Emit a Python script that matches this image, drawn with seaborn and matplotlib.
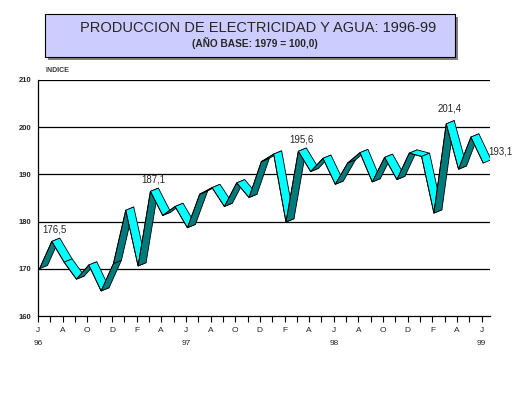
import matplotlib
matplotlib.use("Agg")
import matplotlib.pyplot as plt
from matplotlib.patches import Rectangle
import numpy as np
import seaborn as sns

# monthly index, June 1996 .. June 1999
values = [170.7, 176.5, 172.1, 168.5, 171.5, 166.0, 171.8, 183.1, 171.3, 187.1,
          182.0, 183.9, 179.4, 186.5, 187.9, 183.9, 188.9, 185.8, 193.4, 195.0,
          180.6, 195.6, 191.3, 194.1, 188.6, 193.1, 195.3, 189.1, 194.3, 189.6,
          195.2, 194.5, 182.5, 201.4, 191.8, 198.6, 193.1]
month_letters = ['J', 'A', 'O', 'D', 'F', 'A', 'J', 'A', 'O', 'D', 'F', 'A',
                 'J', 'A', 'O', 'D', 'F', 'A', 'J']
years = {0: '96', 12: '97', 24: '98', 36: '99'}
labelled = {1: '176,5', 9: '187,1', 21: '195,6', 33: '201,4', 36: '193,1'}

sns.set_style("white")
plt.rcParams['font.family'] = ['Liberation Sans', 'DejaVu Sans']

fig = plt.figure(figsize=(5.32, 3.99), dpi=100)
ax = fig.add_axes([0.0714, 0.208, 0.8496, 0.5915])

x = np.arange(len(values)) + 0.12
y = np.array(values)
dx, dy = 0.65, 0.7  # ribbon depth

dark = '#007B7B'
light = '#00FFFF'
for i in range(len(values) - 1):
    x0, x1, y0, y1 = x[i], x[i + 1], y[i], y[i + 1]
    col = dark if y1 > y0 else light
    ax.fill([x0, x1, x1 + dx, x0 + dx], [y0 - dy, y1 - dy, y1, y0],
            facecolor=col, edgecolor='black', lw=0.6, zorder=3 + i * 0.01)

sns.lineplot(x=x, y=y - dy, color='black', lw=0.6, ax=ax, zorder=4)

for i, txt in labelled.items():
    if i == 36:
        ax.text(x[i] + 0.45, y[i] + 0.6, txt, fontsize=7, ha='left', va='bottom',
                clip_on=False)
    else:
        up = 1.4 if i == 33 else 0.7
        ax.text(x[i] + 0.25, y[i] + up, txt, fontsize=7, ha='center', va='bottom')

ax.set_xlim(0, 36.67)
ax.set_ylim(160, 210)
ax.set_yticks(range(160, 211, 10))
ax.set_yticklabels([str(v) for v in range(160, 211, 10)], fontsize=5.5,
                   fontweight='bold')
ax.tick_params(axis='y', length=0, pad=5)

ticks = list(range(37))
tlabels = []
for t in ticks:
    if t % 2 == 0:
        lab = month_letters[t // 2]
        if t in years:
            lab += '\n' + years[t]
        tlabels.append(lab)
    else:
        tlabels.append('')
ax.set_xticks(ticks)
ax.set_xticklabels(tlabels, fontsize=6, linespacing=2.1)
ax.tick_params(axis='x', length=4, width=0.8, color='black', direction='out',
               bottom=True, pad=4)

for v in range(170, 211, 10):
    ax.axhline(v, color='black', lw=0.9, zorder=1)
for side in ['top', 'right']:
    ax.spines[side].set_visible(False)
for side in ['left', 'bottom']:
    ax.spines[side].set_color('black')
    ax.spines[side].set_linewidth(0.9)
ax.grid(False)

# title box with shadow
fig.patches.append(Rectangle((0.0846 + 0.006, 0.857 - 0.008), 0.771, 0.108,
                             transform=fig.transFigure, facecolor='#808080',
                             edgecolor='none', zorder=0))
fig.patches.append(Rectangle((0.0846, 0.857), 0.771, 0.108,
                             transform=fig.transFigure, facecolor='#CCCCFF',
                             edgecolor='black', lw=0.8, zorder=1))
fig.text(0.485, 0.930, 'PRODUCCION DE ELECTRICIDAD Y AGUA: 1996-99',
         fontsize=10.5, ha='center', va='center')
fig.text(0.48, 0.892, '(AÑO BASE: 1979 = 100,0)', fontsize=7.3,
         fontweight='bold', ha='center', va='center')
fig.text(0.085, 0.824, 'INDICE', fontsize=5, fontweight='bold', color='#333333',
         ha='left', va='center')

fig.savefig('out.png', dpi=100)
